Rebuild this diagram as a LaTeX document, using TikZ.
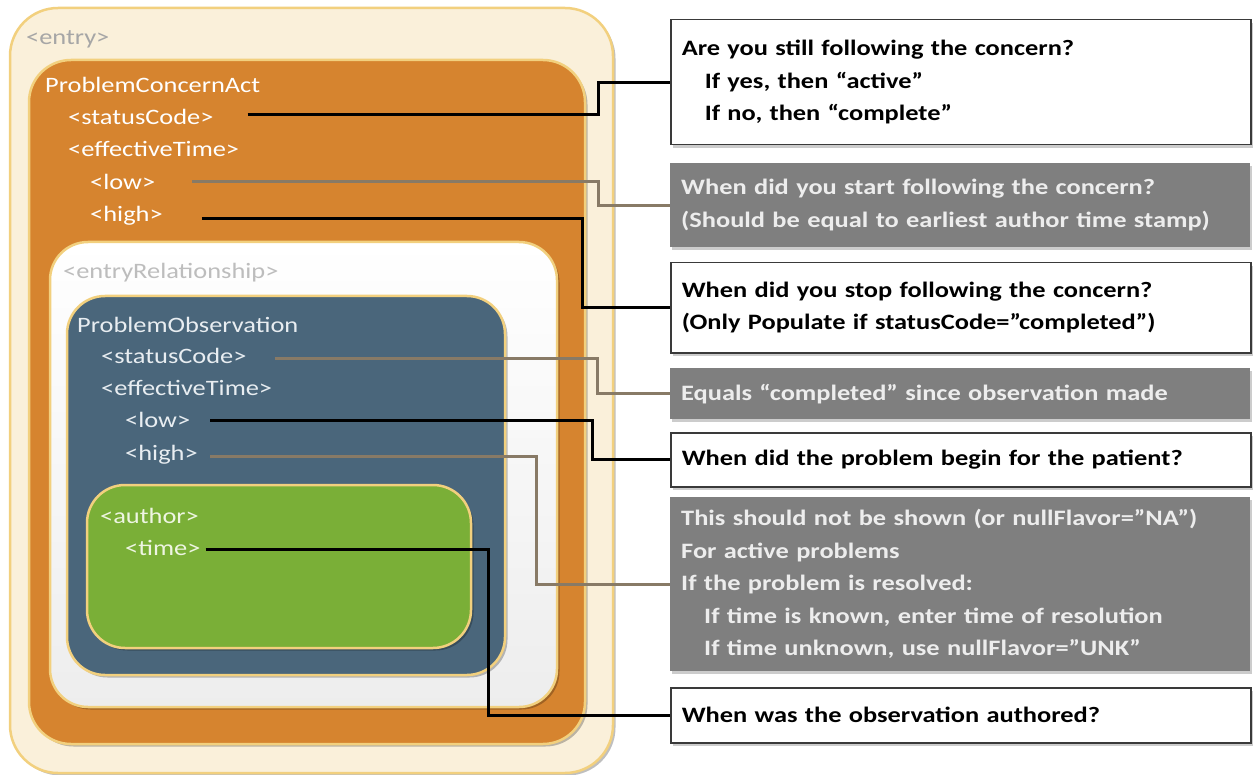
\documentclass[tikz,border=0pt]{standalone}
\usepackage{fontspec}
\newfontfamily\labfont{Carlito}[FakeStretch=1.2]
\usetikzlibrary{shadows}
\definecolor{cream}{HTML}{FAF0DA}
\definecolor{goldedge}{HTML}{F2D07E}
\definecolor{orangebox}{HTML}{D6842F}
\definecolor{bluebox}{HTML}{4A667B}
\definecolor{greenbox}{HTML}{7AAF37}
\definecolor{graybox}{HTML}{7F7F7F}
\definecolor{graytext}{HTML}{EDEDED}
\definecolor{conngray}{HTML}{887A66}
\definecolor{edgedark}{HTML}{3A3A3A}
\definecolor{labgray}{HTML}{A6A6A6}
\definecolor{relgray}{HTML}{BDBDBD}
\definecolor{bluetext}{HTML}{E8EDF1}
\definecolor{greentext}{HTML}{EEF5E2}
\tikzset{
  nest/.style={draw=goldedge, line width=2.5pt, rounded corners=#1,
    drop shadow={shadow xshift=2.5pt, shadow yshift=-2.5pt, opacity=.25, fill=black}},
  lab/.style={font=\labfont\fontsize{22}{26}\selectfont, inner sep=0pt, anchor=base west},
  ans/.style={anchor=north west, minimum width=580pt, text width=558pt, inner xsep=11pt,
    inner ysep=0pt, align=left, font=\labfont\bfseries\fontsize{22}{32.5}\selectfont,
    drop shadow={shadow xshift=2pt, shadow yshift=-3pt, opacity=.2, fill=black}},
  answhite/.style={ans, draw=edgedark, line width=1.5pt, fill=white, text=black},
  ansgray/.style={ans, fill=graybox, text=graytext},
  cblack/.style={draw=black, line width=3pt},
  cgray/.style={draw=conngray, line width=3pt}
}
\begin{document}
\begin{tikzpicture}[x=1pt,y=-1pt]
\useasboundingbox (0,0) rectangle (1257,775);
% nested boxes
\draw[nest=48pt, fill=cream] (10,8) rectangle (613,773);
\draw[nest=42pt, fill=orangebox] (29,60) rectangle (585,744);
\draw[nest=38pt, top color=white, bottom color=black!7] (50,242) rectangle (557,707);
\draw[nest=38pt, fill=bluebox] (67,296) rectangle (505,675);
\draw[nest=38pt, fill=greenbox] (87,485) rectangle (471,648);
% labels
\node[lab, text=labgray] (entry) at (26,45) {<entry>};
\node[lab, text=white] (pca) at (45,93) {ProblemConcernAct};
\node[lab, text=white] (pasc) at (68,125) {<statusCode>};
\node[lab, text=white] (paet) at (68,157) {<effectiveTime>};
\node[lab, text=white] (palow) at (90,190) {<low>};
\node[lab, text=white] (pahigh) at (90,222) {<high>};
\node[lab, text=relgray] (rel) at (63,279) {<entryRelationship>};
\node[lab, text=bluetext] (po) at (77,332) {ProblemObservation};
\node[lab, text=bluetext] (posc) at (101,363) {<statusCode>};
\node[lab, text=bluetext] (poet) at (101,395) {<effectiveTime>};
\node[lab, text=bluetext] (polow) at (125,427) {<low>};
\node[lab, text=bluetext] (pohigh) at (125,460) {<high>};
\node[lab, text=greentext] (auth) at (100,523) {<author>};
\node[lab, text=greentext] (atime) at (125,555) {<time>};
% answer boxes
\node[answhite, minimum height=125pt] (q1) at (670,19)
  {Are you still following the concern?\\
   \hspace*{23pt}If yes, then “active”\\
   \hspace*{23pt}If no, then “complete”};
\node[ansgray, minimum height=84pt] (q2) at (670,163)
  {When did you start following the concern?\\
   (Should be equal to earliest author time stamp)};
\node[answhite, minimum height=90pt] (q3) at (670,262)
  {When did you stop following the concern?\\
   (Only Populate if statusCode=”completed”)};
\node[ansgray, minimum height=51pt] (q4) at (670,368)
  {Equals “completed” since observation made};
\node[answhite, minimum height=54pt] (q5) at (670,432)
  {When did the problem begin for the patient?};
\node[ansgray, minimum height=174pt] (q6) at (670,497)
  {This should not be shown (or nullFlavor=”NA”)\\
   For active problems\\
   If the problem is resolved:\\
   \hspace*{23pt}If time is known, enter time of resolution\\
   \hspace*{23pt}If time unknown, use nullFlavor=”UNK”};
\node[answhite, minimum height=55pt] (q7) at (670,687)
  {When was the observation authored?};
% bend columns
\coordinate (k1) at (598,0);
\coordinate (k2) at (598,0);
\coordinate (k3) at (582,0);
\coordinate (k4) at (597,0);
\coordinate (k5) at (592,0);
\coordinate (k6) at (536,0);
\coordinate (k7) at (488,0);
% connectors
\draw[cblack] ([shift={(34,-10)}]pasc.base east) -| (q1.west -| k1) -- (q1.west);
\draw[cgray]  ([shift={(37,-8)}]palow.base east) -| (q2.west -| k2) -- (q2.west);
\draw[cblack] ([shift={(39,-3)}]pahigh.base east) -| (q3.west -| k3) -- (q3.west);
\draw[cgray]  ([shift={(28,-5)}]posc.base east) -| (q4.west -| k4) -- (q4.west);
\draw[cblack] ([shift={(20,-7)}]polow.base east) -| (q5.west -| k5) -- (q5.west);
\draw[cgray]  ([shift={(12,-4)}]pohigh.base east) -| (q6.west -| k6) -- (q6.west);
\draw[cblack] ([shift={(5,-6)}]atime.base east) -| (q7.west -| k7) -- (q7.west);
\end{tikzpicture}
\end{document}
